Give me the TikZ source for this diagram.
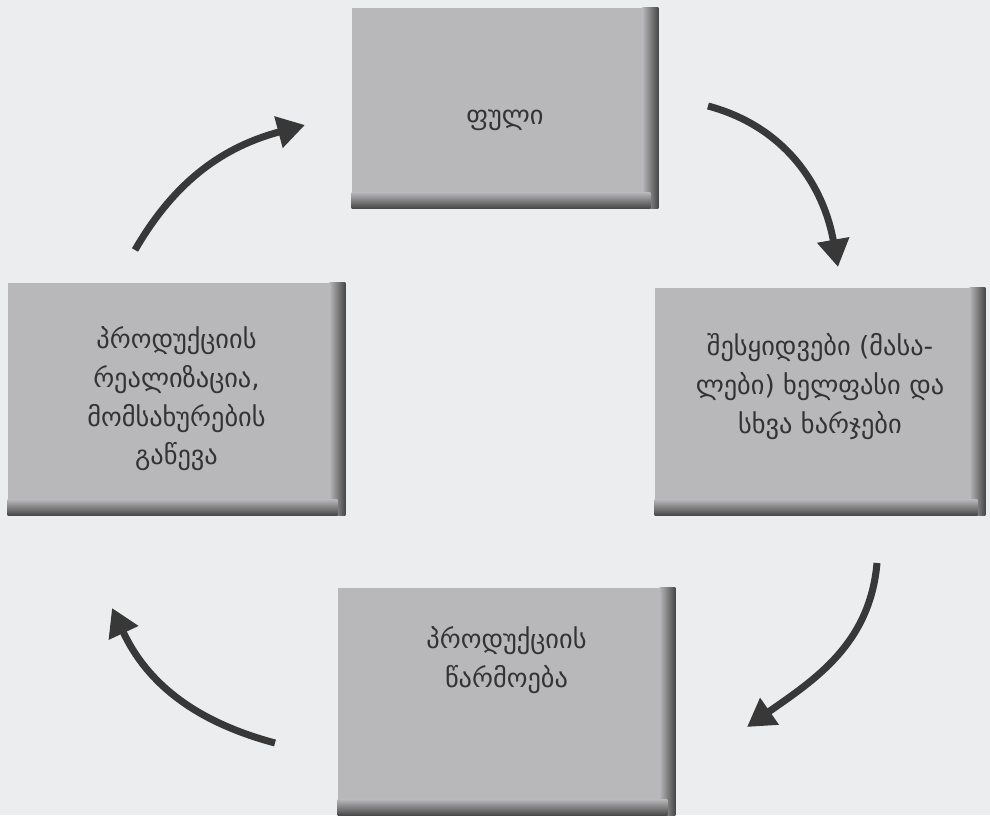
\documentclass[tikz,border=0pt]{standalone}
\usepackage{fontspec}
\newfontfamily\geo[Script=Georgian]{DejaVu Sans}
\usetikzlibrary{arrows.meta,positioning}

\begin{document}
\begin{tikzpicture}[x=1cm,y=1cm,>={Triangle[length=.55cm,width=.62cm]},
  card/.style={fill=boxgray,inner sep=0pt},
  txt/.style={font=\geo\fontsize{15}{22}\selectfont,text=black!80,align=center},
  flow/.style={->,line width=4pt,draw=black!78}]
  \definecolor{boxgray}{RGB}{184,184,186}
  \definecolor{bggray}{RGB}{236,237,239}
  \useasboundingbox[fill=bggray] (0,0) rectangle (19.8,16.3);
  % the four stages
  \node[card,minimum width=6.12cm,minimum height=4cm] (money) at (10.1,14.14) {};
  \node[card,minimum width=6.6cm,minimum height=4.54cm] (buy) at (16.4,8.27) {};
  \node[card,minimum width=6.74cm,minimum height=4.54cm] (make) at (10.13,2.27) {};
  \node[card,minimum width=6.74cm,minimum height=4.64cm] (sell) at (3.53,8.32) {};
  \foreach \b in {money,buy,make,sell}{
    \shade[left color=boxgray,right color=black!72]
      ([xshift=-.32cm]\b.north east) rectangle (\b.south east);
    \shade[top color=boxgray,bottom color=black!72]
      ([yshift=.32cm]\b.south west) rectangle ([xshift=-.16cm]\b.south east);
  }
  \node[txt] (moneyt) at ([yshift=-.25cm]money.center) {ფული};
  \node[txt] (buyt) at ([yshift=.3cm]buy.center) {შესყიდვები (მასა-\\ლები) ხელფასი და\\სხვა ხარჯები};
  \node[txt] (maket) at ([yshift=-1.45cm]make.north) {პროდუქციის\\წარმოება};
  \node[txt] (sellt) at (sell.center) {პროდუქციის\\რეალიზაცია,\\მომსახურების\\გაწევა};
  % cycle arrows
  \coordinate (a1) at (14.16,14.18); \coordinate (b1) at (16.76,10.96);
  \coordinate (a2) at (17.54,5.04);  \coordinate (b2) at (14.94,1.76);
  \coordinate (a3) at (5.5,1.44);    \coordinate (b3) at (2.24,4.14);
  \coordinate (a4) at (2.7,11.3);    \coordinate (b4) at (6.1,13.8);
  \draw[flow] (a1) to[out=-15,in=100] (b1);
  \draw[flow] (a2) to[out=-95,in=35] (b2);
  \draw[flow] (a3) to[out=165,in=-65] (b3);
  \draw[flow] (a4) to[out=60,in=195] (b4);
\end{tikzpicture}
\end{document}
